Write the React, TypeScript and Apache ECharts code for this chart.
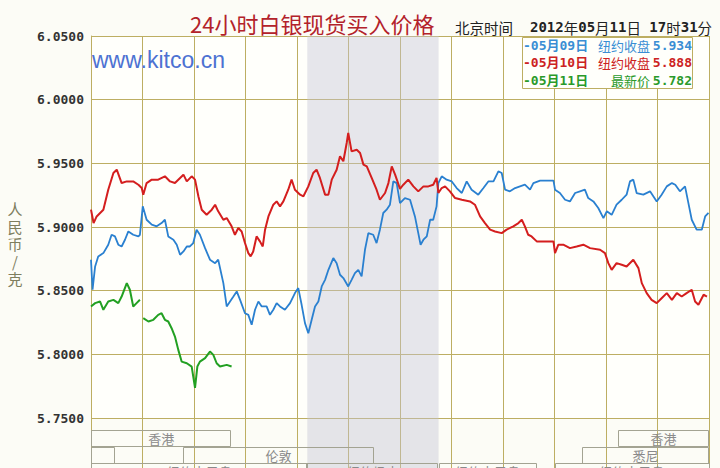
import React, { useEffect, useRef } from 'react';
import * as echarts from 'echarts';

// ---- data (x = hour of the trading day, 0..24; y = RMB / gram) ----
const X_MIN = 0;
const X_MAX = 24;
const X_STEP = 2;
const Y_MIN = 5.75;
const Y_MAX = 6.05;
const Y_STEP = 0.05;

const BAND_FLOOR = [8.4, 13.5]; // shaded session (hours)

const blue0509: (number | null)[][] = [
  [0, 5.8743], [0.06, 5.8507], [0.16, 5.869], [0.28, 5.8769], [0.48, 5.8795], [0.67, 5.8861], [0.8, 5.8939],
  [0.93, 5.8926], [1.06, 5.8861], [1.19, 5.8847], [1.32, 5.89], [1.45, 5.8965], [1.64, 5.8939], [1.84, 5.8926],
  [1.9, 5.8939], [2.01, 5.9162], [2.16, 5.9057], [2.36, 5.9018], [2.55, 5.9005], [2.74, 5.9031], [2.87, 5.9057],
  [3.0, 5.8926], [3.2, 5.89], [3.33, 5.8861], [3.46, 5.8782], [3.59, 5.8808], [3.72, 5.8847], [3.84, 5.8847],
  [3.97, 5.8874], [4.1, 5.8979], [4.23, 5.8939], [4.43, 5.8834], [4.62, 5.8743], [4.82, 5.8716], [4.94, 5.8743],
  [5.14, 5.8559], [5.27, 5.8376], [5.4, 5.8415], [5.53, 5.8454], [5.66, 5.8494], [5.79, 5.8428], [5.98, 5.8323],
  [6.11, 5.831], [6.24, 5.8232], [6.37, 5.835], [6.5, 5.8415], [6.63, 5.8376], [6.82, 5.8376], [6.95, 5.831],
  [7.08, 5.835], [7.21, 5.8402], [7.34, 5.8376], [7.53, 5.835], [7.73, 5.8402], [7.92, 5.8481], [8.05, 5.852],
  [8.18, 5.8389], [8.31, 5.8245], [8.44, 5.8166], [8.57, 5.8271], [8.7, 5.8376], [8.83, 5.8415], [8.96, 5.8533],
  [9.09, 5.8585], [9.22, 5.8664], [9.41, 5.8756], [9.54, 5.8716], [9.67, 5.8625], [9.8, 5.8599], [9.99, 5.8533],
  [10.12, 5.8585], [10.25, 5.8638], [10.38, 5.8664], [10.51, 5.8612], [10.64, 5.8821], [10.77, 5.8952],
  [10.96, 5.8939], [11.09, 5.8874], [11.22, 5.8979], [11.35, 5.911], [11.48, 5.9136], [11.61, 5.9175],
  [11.74, 5.9358], [11.87, 5.9345], [12.0, 5.9188], [12.19, 5.9227], [12.39, 5.9214], [12.58, 5.9083],
  [12.71, 5.8952], [12.8, 5.8861], [12.91, 5.89], [13.04, 5.8926], [13.17, 5.9057], [13.29, 5.9057],
  [13.42, 5.9162], [13.49, 5.9345], [13.62, 5.9398], [13.81, 5.9372], [14.01, 5.9358], [14.2, 5.9306],
  [14.4, 5.9267], [14.59, 5.9358], [14.78, 5.9293], [15.04, 5.9254], [15.24, 5.9306], [15.43, 5.9358],
  [15.63, 5.9358], [15.82, 5.9437], [15.95, 5.9424], [16.08, 5.9293], [16.27, 5.928], [16.47, 5.9306],
  [16.66, 5.9319], [16.85, 5.9332], [17.05, 5.9293], [17.18, 5.9345], [17.44, 5.9364], [17.96, 5.9364],
  [18.02, 5.9293], [18.21, 5.9267], [18.41, 5.9214], [18.6, 5.9201], [18.8, 5.9267], [18.99, 5.928],
  [19.18, 5.9293], [19.31, 5.9227], [19.51, 5.9201], [19.7, 5.9149], [19.9, 5.907], [20.03, 5.9123],
  [20.22, 5.9096], [20.41, 5.9175], [20.61, 5.9214], [20.8, 5.9254], [20.93, 5.9358], [21.06, 5.9372],
  [21.19, 5.9267], [21.45, 5.9254], [21.71, 5.928], [21.97, 5.9201], [22.16, 5.9254], [22.36, 5.9319],
  [22.56, 5.9345], [22.69, 5.9332], [22.87, 5.928], [23.07, 5.9319], [23.2, 5.9188], [23.33, 5.9057],
  [23.52, 5.8979], [23.72, 5.8979], [23.85, 5.9083], [23.98, 5.911],
];

const red0510: (number | null)[][] = [
  [0, 5.9136], [0.1, 5.9031], [0.22, 5.9083], [0.48, 5.9136], [0.67, 5.9293], [0.87, 5.9424], [1.0, 5.945],
  [1.19, 5.9345], [1.39, 5.9358], [1.64, 5.9358], [1.84, 5.9332], [1.97, 5.9306], [2.03, 5.9254], [2.16, 5.9345],
  [2.36, 5.9372], [2.61, 5.9372], [2.87, 5.9398], [3.07, 5.9358], [3.26, 5.9345], [3.46, 5.9385], [3.59, 5.9411],
  [3.72, 5.9358], [3.91, 5.9398], [4.04, 5.9372], [4.17, 5.9241], [4.3, 5.9136], [4.49, 5.9096], [4.69, 5.9136],
  [4.82, 5.9175], [4.94, 5.9123], [5.14, 5.9057], [5.27, 5.907], [5.46, 5.9005], [5.59, 5.8939], [5.72, 5.8992],
  [5.85, 5.8965], [5.98, 5.8874], [6.11, 5.8795], [6.2, 5.8769], [6.3, 5.8808], [6.43, 5.8926], [6.56, 5.8887],
  [6.67, 5.8847], [6.76, 5.8979], [6.89, 5.9083], [7.08, 5.9175], [7.21, 5.9201], [7.34, 5.9162], [7.47, 5.9201],
  [7.66, 5.9293], [7.79, 5.9372], [7.92, 5.9293], [8.12, 5.9254], [8.25, 5.9241], [8.44, 5.9319], [8.63, 5.9424],
  [8.76, 5.945], [8.89, 5.9385], [9.09, 5.9254], [9.22, 5.9254], [9.35, 5.9372], [9.54, 5.945], [9.67, 5.9555],
  [9.8, 5.9516], [9.93, 5.966], [9.99, 5.9738], [10.12, 5.9594], [10.32, 5.9607], [10.45, 5.9581], [10.58, 5.949],
  [10.71, 5.9476], [10.9, 5.9385], [11.09, 5.9293], [11.22, 5.9214], [11.42, 5.9267], [11.55, 5.9345],
  [11.68, 5.9476], [11.81, 5.9411], [12.0, 5.93], [12.13, 5.9332], [12.32, 5.9372], [12.52, 5.9319],
  [12.71, 5.928], [12.91, 5.9319], [13.1, 5.9319], [13.29, 5.9332], [13.42, 5.9385], [13.49, 5.9267],
  [13.62, 5.9306], [13.75, 5.9319], [13.94, 5.928], [14.14, 5.9227], [14.4, 5.9214], [14.72, 5.9201],
  [14.91, 5.9175], [15.11, 5.9083], [15.3, 5.9031], [15.5, 5.8979], [15.69, 5.8965], [15.95, 5.8952],
  [16.14, 5.8979], [16.4, 5.9005], [16.6, 5.9031], [16.73, 5.9057], [16.85, 5.9005], [16.98, 5.8939],
  [17.11, 5.8926], [17.31, 5.8887], [17.96, 5.8887], [18.02, 5.8795], [18.15, 5.8861], [18.34, 5.8861],
  [18.6, 5.8834], [18.86, 5.8847], [19.12, 5.8861], [19.38, 5.8834], [19.77, 5.8821], [19.96, 5.8795],
  [20.09, 5.8716], [20.22, 5.8664], [20.41, 5.8716], [20.61, 5.8703], [20.8, 5.869], [21.06, 5.8743],
  [21.26, 5.8677], [21.39, 5.8559], [21.58, 5.8481], [21.77, 5.8428], [21.97, 5.8402], [22.16, 5.8441],
  [22.36, 5.8481], [22.56, 5.8428], [22.75, 5.8481], [22.94, 5.8454], [23.13, 5.8481], [23.33, 5.8507],
  [23.46, 5.8415], [23.59, 5.8389], [23.79, 5.8468], [23.92, 5.8454],
];

const green0511: (number | null)[][] = [
  [0, 5.8376], [0.16, 5.8402], [0.35, 5.8415], [0.48, 5.835], [0.67, 5.8415], [0.87, 5.8428], [1.06, 5.8402],
  [1.19, 5.8454], [1.39, 5.8559], [1.51, 5.8507], [1.64, 5.8376], [1.77, 5.8402], [1.9, 5.8428],
  [1.96, null],
  [2.03, 5.8284], [2.23, 5.8258], [2.42, 5.8271], [2.61, 5.831], [2.74, 5.8323], [2.87, 5.8271], [3.0, 5.8258],
  [3.13, 5.8205], [3.26, 5.814], [3.39, 5.8035], [3.52, 5.7943], [3.72, 5.793], [3.91, 5.7904], [4.04, 5.7736],
  [4.13, 5.7904], [4.23, 5.7943], [4.43, 5.797], [4.62, 5.8022], [4.75, 5.7996], [4.88, 5.793], [5.01, 5.7904],
  [5.27, 5.7917], [5.46, 5.7904],
];

const LEGEND_DATES = ['-05月09日', '-05月10日', '-05月11日'];
const LEGEND_NAMES = ['纽约收盘', '纽约收盘', '最新价'];
const LEGEND_VALUES = ['5.934', '5.888', '5.782'];

// market sessions (hours, row index)
const SESSIONS = [
  { name: '香港', start: 0, end: 5.45, row: 0 },
  { name: '香港', start: 20.47, end: 24, row: 0 },
  { name: '', start: 0, end: 0.93, row: 1 },
  { name: '伦敦', start: 3.57, end: 10.99, row: 1 },
  { name: '悉尼', start: 19.07, end: 24, row: 1 },
  { name: '纽约电子盘', start: 0, end: 8.4, row: 2 },
  { name: '纽约场内', start: 8.4, end: 13.5, row: 2 },
  { name: '纽约电子盘', start: 13.5, end: 17.3, row: 2 },
  { name: '纽约电子盘', start: 18, end: 24, row: 2 },
];

// ---- styles ----
const GRID_COLOR = '#bdae62';
const BLUE = '#2a80d0';
const RED = '#d41e1e';
const GREEN = '#22a022';
const MONO = "'DejaVu Sans Mono', monospace";
const CJK = "'Noto Sans CJK SC', sans-serif";
const BG = '#fcfcf6';

const LEGEND_COLORS = ['#3a8ed4', '#cc2222', '#2a9a2a'];

function buildOption() {
  const axisCommonX = {
    type: 'value',
    min: X_MIN,
    max: X_MAX,
    interval: X_STEP,
    axisLine: { show: false },
    axisTick: { show: false },
    axisLabel: { show: false },
    splitLine: { show: true, lineStyle: { color: GRID_COLOR, width: 1 } },
  };

  const legendTexts: any[] = [];
  LEGEND_DATES.forEach((d, i) => {
    const y = 45 + i * 17.5;
    legendTexts.push(
      { type: 'text', x: 523, y, z: 101, style: { text: d, fill: LEGEND_COLORS[i], fontSize: 13, fontFamily: `${MONO}, ${CJK}`, fontWeight: 'bold', align: 'left', verticalAlign: 'middle' } },
      { type: 'text', x: 650, y, z: 101, style: { text: LEGEND_NAMES[i], fill: LEGEND_COLORS[i], fontSize: 13, fontFamily: CJK, align: 'right', verticalAlign: 'middle' } },
      { type: 'text', x: 692, y, z: 101, style: { text: LEGEND_VALUES[i], fill: LEGEND_COLORS[i], fontSize: 13, fontFamily: MONO, fontWeight: 'bold', align: 'right', verticalAlign: 'middle' } },
    );
  });

  const band = {
    silent: true,
    itemStyle: { color: 'rgba(196,196,212,0.42)' },
    data: [[{ xAxis: BAND_FLOOR[0] }, { xAxis: BAND_FLOOR[1] }]],
  };

  return {
    animation: false,
    backgroundColor: BG,
    grid: [
      { left: 91, top: 36, width: 618, height: 382, show: true, backgroundColor: '#fffffb', borderWidth: 0 },
      { left: 91, top: 418, width: 618, height: 50, show: false },
    ],
    xAxis: [
      { ...axisCommonX, gridIndex: 0 },
      { ...axisCommonX, gridIndex: 1 },
    ],
    yAxis: [
      {
        type: 'value',
        gridIndex: 0,
        min: Y_MIN,
        max: Y_MAX,
        interval: Y_STEP,
        axisLine: { show: true, lineStyle: { color: GRID_COLOR } },
        axisTick: { show: false },
        axisLabel: {
          formatter: (v: number) => v.toFixed(4),
          color: '#333',
          fontFamily: MONO,
          fontWeight: 'bold',
          fontSize: 13,
          margin: 7,
        },
        splitLine: { show: true, lineStyle: { color: GRID_COLOR, width: 1 } },
      },
      { type: 'value', gridIndex: 1, min: -0.75, max: 2.28, inverse: true, show: false },
    ],
    series: [
      {
        type: 'line', name: '05月09日', xAxisIndex: 0, yAxisIndex: 0, data: blue0509, symbol: 'none',
        lineStyle: { color: BLUE, width: 1.8 }, markArea: band,
      },
      {
        type: 'line', name: '05月10日', xAxisIndex: 0, yAxisIndex: 0, data: red0510, symbol: 'none',
        lineStyle: { color: RED, width: 2 },
      },
      {
        type: 'line', name: '05月11日', xAxisIndex: 0, yAxisIndex: 0, data: green0511, symbol: 'none',
        connectNulls: false, lineStyle: { color: GREEN, width: 2 },
      },
      {
        type: 'custom', xAxisIndex: 1, yAxisIndex: 1, clip: false,
        data: SESSIONS.map((s) => [s.start, s.end, s.row]),
        encode: { x: [0, 1], y: 2 },
        markArea: band,
        renderItem: (params: any, api: any) => {
          const s = SESSIONS[params.dataIndex];
          const p0 = api.coord([s.start, s.row]);
          const p1 = api.coord([s.end, s.row + 1]);
          const children: any[] = [
            {
              type: 'rect',
              shape: { x: Math.round(p0[0]) + 0.5, y: Math.round(p0[1]) + 0.5, width: Math.round(p1[0] - p0[0]) - 1, height: Math.round(p1[1] - p0[1]) - 1 },
              style: { fill: 'none', stroke: '#a3a392', lineWidth: 1 },
            },
          ];
          if (s.name) {
            children.push({
              type: 'text',
              x: (p0[0] + p1[0]) / 2,
              y: (p0[1] + p1[1]) / 2,
              style: { text: s.name, fill: '#8a8a8a', fontSize: 13, fontFamily: CJK, align: 'center', verticalAlign: 'middle' },
            });
          }
          return { type: 'group', children };
        },
      },
    ],
    graphic: [
      {
        type: 'text', x: 190, y: 23, z: 100,
        style: { text: '24小时白银现货买入价格', fill: '#b3222a', fontSize: 22, fontFamily: CJK, align: 'left', verticalAlign: 'middle' },
      },
      {
        type: 'text', x: 455, y: 27, z: 100,
        style: { text: '北京时间', fill: '#222', fontSize: 14.5, fontFamily: CJK, align: 'left', verticalAlign: 'middle' },
      },
      {
        type: 'text', x: 530, y: 27, z: 100,
        style: {
          text: '{d|2012}{c|年}{d|05}{c|月}{d|11}{c|日}{d| 17}{c|时}{d|31}{c|分}',
          align: 'left', verticalAlign: 'middle',
          rich: {
            d: { fontFamily: MONO, fontWeight: 'bold', fontSize: 14, fill: '#222' },
            c: { fontFamily: CJK, fontSize: 14.5, fill: '#222' },
          },
        },
      },
      {
        type: 'text', x: 92, y: 60, z: 100,
        style: { text: 'www.kitco.cn', fill: '#4d72d2', fontSize: 23, fontFamily: "'Liberation Sans', Arial, sans-serif", align: 'left', verticalAlign: 'middle' },
      },
      {
        type: 'text', x: 15, y: 200, z: 100,
        style: { text: '人\n民\n币\n/\n克', fill: '#7e7e5e', fontSize: 15, lineHeight: 17.5, fontFamily: CJK, align: 'center', verticalAlign: 'top' },
      },
      {
        type: 'rect', z: 100,
        shape: { x: 522.5, y: 37.5, width: 170, height: 51 },
        style: { fill: '#fffffb', stroke: GRID_COLOR, lineWidth: 1 },
      },
      ...legendTexts,
    ],
  };
}

export default function App() {
  const ref = useRef<HTMLDivElement>(null);
  useEffect(() => {
    if (!ref.current) return;
    const chart = echarts.init(ref.current, undefined, { renderer: 'svg' });
    chart.setOption(buildOption() as any);
    return () => chart.dispose();
  }, []);
  return <div ref={ref} style={{ position: 'absolute', left: 0, top: 0, width: 720, height: 468 }} />;
}
